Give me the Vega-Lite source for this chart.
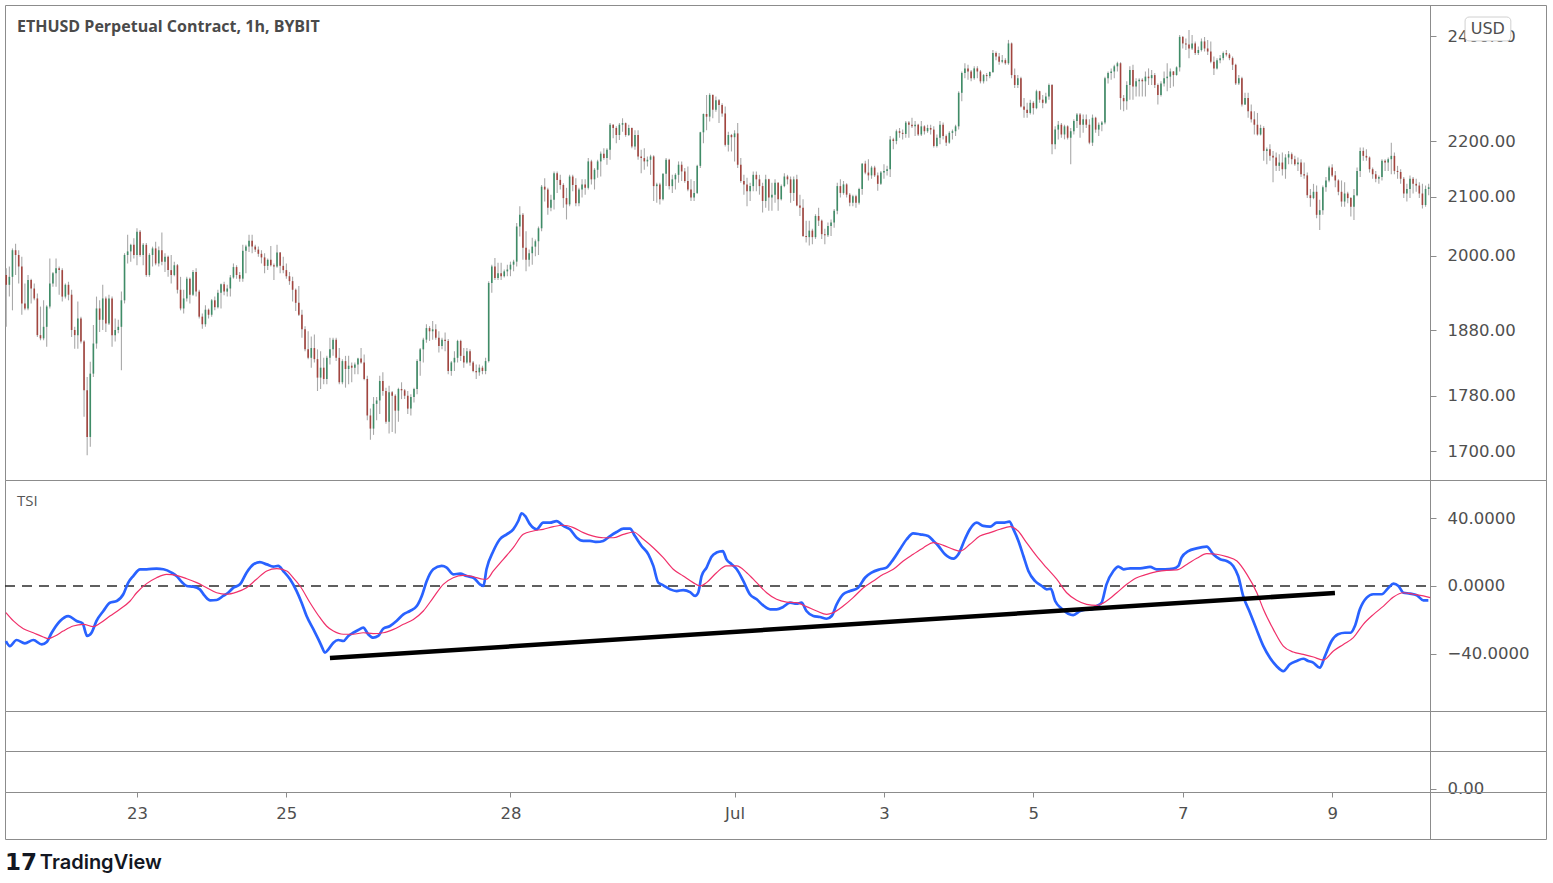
{
"$schema":"https://vega.github.io/schema/vega-lite/v6.json",
"background":"white",
"padding":{"left":0,"top":4,"right":5,"bottom":5},
"spacing":0,
"bounds":"flush",
"config":{"view":{"stroke":"#8c8c8c","strokeWidth":1},
"axis":{"grid":false,"title":null,"labelFont":"DejaVu Sans","labelFontSize":16.5,"labelColor":"#4f4f4f","tickColor":"#8c8c8c","domainColor":"#8c8c8c","labelOverlap":false,"labelFlush":false,"labelBound":false}},
"datasets":{
"candles":[
{"t":-42,"o":1968,"h":1979,"l":1885,"c":1952},{"t":-41,"o":1952,"h":1982,"l":1933,"c":1965},{"t":-40,"o":1965,"h":2012,"l":1911,"c":2009},{"t":-39,"o":2009,"h":2020,"l":1968,"c":2001},{"t":-38,"o":2001,"h":2009,"l":1954,"c":1982},{"t":-37,"o":1982,"h":1998,"l":1904,"c":1922},{"t":-36,"o":1922,"h":1954,"l":1911,"c":1914},{"t":-35,"o":1914,"h":1968,"l":1911,"c":1960},{"t":-34,"o":1960,"h":1962,"l":1922,"c":1946},{"t":-33,"o":1946,"h":1954,"l":1927,"c":1930},
{"t":-32,"o":1930,"h":1938,"l":1869,"c":1872},{"t":-31,"o":1872,"h":1917,"l":1864,"c":1867},{"t":-30,"o":1867,"h":1927,"l":1864,"c":1885},{"t":-29,"o":1885,"h":1919,"l":1854,"c":1917},{"t":-28,"o":1917,"h":1995,"l":1914,"c":1954},{"t":-27,"o":1954,"h":1973,"l":1949,"c":1971},{"t":-26,"o":1971,"h":1995,"l":1949,"c":1979},{"t":-25,"o":1979,"h":1982,"l":1936,"c":1976},{"t":-24,"o":1976,"h":1979,"l":1925,"c":1933},{"t":-23,"o":1933,"h":1954,"l":1930,"c":1952},
{"t":-22,"o":1952,"h":1957,"l":1927,"c":1936},{"t":-21,"o":1936,"h":1944,"l":1869,"c":1880},{"t":-20,"o":1880,"h":1885,"l":1851,"c":1872},{"t":-19,"o":1872,"h":1925,"l":1851,"c":1898},{"t":-18,"o":1898,"h":1901,"l":1859,"c":1862},{"t":-17,"o":1862,"h":1864,"l":1749,"c":1788},{"t":-16,"o":1788,"h":1808,"l":1694,"c":1720},{"t":-15,"o":1720,"h":1831,"l":1706,"c":1813},{"t":-14,"o":1813,"h":1888,"l":1808,"c":1859},{"t":-13,"o":1859,"h":1933,"l":1851,"c":1914},
{"t":-12,"o":1914,"h":1927,"l":1877,"c":1896},{"t":-11,"o":1896,"h":1952,"l":1880,"c":1930},{"t":-10,"o":1930,"h":1933,"l":1877,"c":1890},{"t":-9,"o":1890,"h":1936,"l":1888,"c":1930},{"t":-8,"o":1930,"h":1933,"l":1854,"c":1872},{"t":-7,"o":1872,"h":1898,"l":1862,"c":1880},{"t":-6,"o":1880,"h":1896,"l":1875,"c":1885},{"t":-5,"o":1885,"h":1941,"l":1818,"c":1927},{"t":-4,"o":1927,"h":2004,"l":1922,"c":2001},{"t":-3,"o":2001,"h":2035,"l":1987,"c":2007},
{"t":-2,"o":2007,"h":2020,"l":1990,"c":2018},{"t":-1,"o":2018,"h":2029,"l":1995,"c":2001},{"t":0,"o":2001,"h":2046,"l":1984,"c":2040},{"t":1,"o":2040,"h":2043,"l":1998,"c":2001},{"t":2,"o":2001,"h":2021,"l":1984,"c":2018},{"t":3,"o":2018,"h":2021,"l":1965,"c":1968},{"t":4,"o":1968,"h":2004,"l":1965,"c":2001},{"t":5,"o":2001,"h":2015,"l":1982,"c":2012},{"t":6,"o":2012,"h":2023,"l":1984,"c":1987},{"t":7,"o":1987,"h":2015,"l":1982,"c":2009},
{"t":8,"o":2009,"h":2039,"l":1984,"c":1990},{"t":9,"o":1990,"h":2004,"l":1973,"c":1998},{"t":10,"o":1998,"h":2000,"l":1965,"c":1976},{"t":11,"o":1976,"h":2001,"l":1954,"c":1968},{"t":12,"o":1968,"h":1990,"l":1966,"c":1984},{"t":13,"o":1984,"h":1986,"l":1938,"c":1944},{"t":14,"o":1944,"h":1965,"l":1911,"c":1914},{"t":15,"o":1914,"h":1944,"l":1906,"c":1930},{"t":16,"o":1930,"h":1965,"l":1925,"c":1962},{"t":17,"o":1962,"h":1964,"l":1922,"c":1936},
{"t":18,"o":1936,"h":1976,"l":1934,"c":1973},{"t":19,"o":1973,"h":1979,"l":1933,"c":1941},{"t":20,"o":1941,"h":1944,"l":1898,"c":1901},{"t":21,"o":1901,"h":1906,"l":1882,"c":1889},{"t":22,"o":1889,"h":1919,"l":1885,"c":1912},{"t":23,"o":1912,"h":1914,"l":1898,"c":1904},{"t":24,"o":1904,"h":1929,"l":1901,"c":1927},{"t":25,"o":1927,"h":1933,"l":1911,"c":1916},{"t":26,"o":1916,"h":1944,"l":1914,"c":1939},{"t":27,"o":1939,"h":1954,"l":1914,"c":1953},
{"t":28,"o":1953,"h":1957,"l":1935,"c":1941},{"t":29,"o":1941,"h":1952,"l":1933,"c":1946},{"t":30,"o":1946,"h":1968,"l":1933,"c":1964},{"t":31,"o":1964,"h":1987,"l":1962,"c":1981},{"t":32,"o":1981,"h":1984,"l":1962,"c":1968},{"t":33,"o":1968,"h":1973,"l":1957,"c":1962},{"t":34,"o":1962,"h":2018,"l":1957,"c":2008},{"t":35,"o":2008,"h":2018,"l":1971,"c":2015},{"t":36,"o":2015,"h":2035,"l":2006,"c":2025},{"t":37,"o":2025,"h":2035,"l":2004,"c":2015},
{"t":38,"o":2015,"h":2018,"l":2006,"c":2010},{"t":39,"o":2010,"h":2015,"l":1998,"c":2003},{"t":40,"o":2003,"h":2009,"l":1987,"c":1997},{"t":41,"o":1997,"h":2004,"l":1971,"c":1983},{"t":42,"o":1983,"h":1995,"l":1976,"c":1993},{"t":43,"o":1993,"h":2016,"l":1982,"c":1984},{"t":44,"o":1984,"h":1987,"l":1960,"c":1982},{"t":45,"o":1982,"h":2018,"l":1980,"c":2005},{"t":46,"o":2005,"h":2006,"l":1971,"c":1983},{"t":47,"o":1983,"h":1998,"l":1971,"c":1976},
{"t":48,"o":1976,"h":1987,"l":1962,"c":1966},{"t":49,"o":1966,"h":1973,"l":1952,"c":1958},{"t":50,"o":1958,"h":1965,"l":1925,"c":1944},{"t":51,"o":1944,"h":1946,"l":1910,"c":1923},{"t":52,"o":1923,"h":1950,"l":1902,"c":1904},{"t":53,"o":1904,"h":1912,"l":1868,"c":1881},{"t":54,"o":1881,"h":1886,"l":1847,"c":1850},{"t":55,"o":1850,"h":1878,"l":1835,"c":1837},{"t":56,"o":1837,"h":1870,"l":1822,"c":1852},{"t":57,"o":1852,"h":1873,"l":1830,"c":1835},
{"t":58,"o":1835,"h":1850,"l":1787,"c":1807},{"t":59,"o":1807,"h":1847,"l":1790,"c":1822},{"t":60,"o":1822,"h":1837,"l":1797,"c":1805},{"t":61,"o":1805,"h":1840,"l":1797,"c":1837},{"t":62,"o":1837,"h":1868,"l":1827,"c":1850},{"t":63,"o":1850,"h":1868,"l":1840,"c":1865},{"t":64,"o":1865,"h":1868,"l":1832,"c":1837},{"t":65,"o":1837,"h":1852,"l":1797,"c":1800},{"t":66,"o":1800,"h":1835,"l":1797,"c":1832},{"t":67,"o":1832,"h":1840,"l":1792,"c":1820},
{"t":68,"o":1820,"h":1840,"l":1797,"c":1825},{"t":69,"o":1825,"h":1830,"l":1800,"c":1822},{"t":70,"o":1822,"h":1830,"l":1812,"c":1827},{"t":71,"o":1827,"h":1837,"l":1812,"c":1836},{"t":72,"o":1836,"h":1852,"l":1828,"c":1830},{"t":73,"o":1830,"h":1842,"l":1803,"c":1805},{"t":74,"o":1805,"h":1810,"l":1744,"c":1751},{"t":75,"o":1751,"h":1761,"l":1716,"c":1732},{"t":76,"o":1732,"h":1778,"l":1723,"c":1768},{"t":77,"o":1768,"h":1778,"l":1744,"c":1773},
{"t":78,"o":1773,"h":1810,"l":1753,"c":1802},{"t":79,"o":1802,"h":1815,"l":1780,"c":1787},{"t":80,"o":1787,"h":1792,"l":1739,"c":1742},{"t":81,"o":1742,"h":1795,"l":1725,"c":1785},{"t":82,"o":1785,"h":1787,"l":1727,"c":1780},{"t":83,"o":1780,"h":1782,"l":1725,"c":1758},{"t":84,"o":1758,"h":1792,"l":1742,"c":1790},{"t":85,"o":1790,"h":1800,"l":1775,"c":1788},{"t":86,"o":1788,"h":1790,"l":1775,"c":1780},{"t":87,"o":1780,"h":1787,"l":1753,"c":1761},
{"t":88,"o":1761,"h":1782,"l":1751,"c":1778},{"t":89,"o":1778,"h":1792,"l":1770,"c":1790},{"t":90,"o":1790,"h":1835,"l":1782,"c":1832},{"t":91,"o":1832,"h":1852,"l":1810,"c":1850},{"t":92,"o":1850,"h":1868,"l":1830,"c":1865},{"t":93,"o":1865,"h":1889,"l":1860,"c":1883},{"t":94,"o":1883,"h":1886,"l":1863,"c":1878},{"t":95,"o":1878,"h":1894,"l":1865,"c":1881},{"t":96,"o":1881,"h":1889,"l":1865,"c":1868},{"t":97,"o":1868,"h":1878,"l":1845,"c":1855},
{"t":98,"o":1855,"h":1868,"l":1850,"c":1865},{"t":99,"o":1865,"h":1876,"l":1847,"c":1863},{"t":100,"o":1863,"h":1866,"l":1812,"c":1817},{"t":101,"o":1817,"h":1832,"l":1810,"c":1830},{"t":102,"o":1830,"h":1847,"l":1817,"c":1837},{"t":103,"o":1837,"h":1865,"l":1830,"c":1863},{"t":104,"o":1863,"h":1865,"l":1832,"c":1840},{"t":105,"o":1840,"h":1852,"l":1822,"c":1830},{"t":106,"o":1830,"h":1852,"l":1828,"c":1847},{"t":107,"o":1847,"h":1850,"l":1825,"c":1830},
{"t":108,"o":1830,"h":1832,"l":1815,"c":1817},{"t":109,"o":1817,"h":1827,"l":1805,"c":1815},{"t":110,"o":1815,"h":1827,"l":1810,"c":1822},{"t":111,"o":1822,"h":1825,"l":1812,"c":1817},{"t":112,"o":1817,"h":1837,"l":1812,"c":1832},{"t":113,"o":1832,"h":1958,"l":1830,"c":1955},{"t":114,"o":1955,"h":1985,"l":1939,"c":1982},{"t":115,"o":1982,"h":1996,"l":1960,"c":1963},{"t":116,"o":1963,"h":1988,"l":1960,"c":1971},{"t":117,"o":1971,"h":1988,"l":1960,"c":1966},
{"t":118,"o":1966,"h":1977,"l":1964,"c":1974},{"t":119,"o":1974,"h":1985,"l":1966,"c":1977},{"t":120,"o":1977,"h":1990,"l":1966,"c":1985},{"t":121,"o":1985,"h":1993,"l":1974,"c":1990},{"t":122,"o":1990,"h":2055,"l":1982,"c":2049},{"t":123,"o":2049,"h":2084,"l":2032,"c":2069},{"t":124,"o":2069,"h":2072,"l":1993,"c":2013},{"t":125,"o":2013,"h":2041,"l":1974,"c":1993},{"t":126,"o":1993,"h":2010,"l":1982,"c":2004},{"t":127,"o":2004,"h":2030,"l":1985,"c":2015},
{"t":128,"o":2015,"h":2027,"l":1999,"c":2024},{"t":129,"o":2024,"h":2049,"l":2001,"c":2046},{"t":130,"o":2046,"h":2121,"l":2041,"c":2118},{"t":131,"o":2118,"h":2133,"l":2092,"c":2113},{"t":132,"o":2113,"h":2116,"l":2069,"c":2081},{"t":133,"o":2081,"h":2104,"l":2075,"c":2095},{"t":134,"o":2095,"h":2145,"l":2078,"c":2142},{"t":135,"o":2142,"h":2145,"l":2107,"c":2130},{"t":136,"o":2130,"h":2139,"l":2113,"c":2121},{"t":137,"o":2121,"h":2124,"l":2081,"c":2098},
{"t":138,"o":2098,"h":2116,"l":2061,"c":2087},{"t":139,"o":2087,"h":2139,"l":2084,"c":2136},{"t":140,"o":2136,"h":2139,"l":2110,"c":2121},{"t":141,"o":2121,"h":2133,"l":2084,"c":2089},{"t":142,"o":2089,"h":2116,"l":2084,"c":2113},{"t":143,"o":2113,"h":2131,"l":2099,"c":2122},{"t":144,"o":2122,"h":2131,"l":2104,"c":2116},{"t":145,"o":2116,"h":2169,"l":2113,"c":2163},{"t":146,"o":2163,"h":2166,"l":2122,"c":2131},{"t":147,"o":2131,"h":2151,"l":2113,"c":2148},
{"t":148,"o":2148,"h":2166,"l":2134,"c":2163},{"t":149,"o":2163,"h":2181,"l":2136,"c":2177},{"t":150,"o":2177,"h":2187,"l":2166,"c":2169},{"t":151,"o":2169,"h":2187,"l":2157,"c":2184},{"t":152,"o":2184,"h":2233,"l":2166,"c":2230},{"t":153,"o":2230,"h":2231,"l":2205,"c":2224},{"t":154,"o":2224,"h":2227,"l":2196,"c":2211},{"t":155,"o":2211,"h":2233,"l":2202,"c":2230},{"t":156,"o":2230,"h":2242,"l":2217,"c":2233},{"t":157,"o":2233,"h":2234,"l":2208,"c":2211},
{"t":158,"o":2211,"h":2230,"l":2209,"c":2224},{"t":159,"o":2224,"h":2225,"l":2187,"c":2190},{"t":160,"o":2190,"h":2220,"l":2184,"c":2211},{"t":161,"o":2211,"h":2220,"l":2166,"c":2172},{"t":162,"o":2172,"h":2184,"l":2142,"c":2169},{"t":163,"o":2169,"h":2187,"l":2148,"c":2163},{"t":164,"o":2163,"h":2172,"l":2154,"c":2166},{"t":165,"o":2166,"h":2175,"l":2139,"c":2172},{"t":166,"o":2172,"h":2174,"l":2093,"c":2119},{"t":167,"o":2119,"h":2125,"l":2090,"c":2122},
{"t":168,"o":2122,"h":2125,"l":2087,"c":2096},{"t":169,"o":2096,"h":2142,"l":2094,"c":2141},{"t":170,"o":2141,"h":2169,"l":2119,"c":2166},{"t":171,"o":2166,"h":2168,"l":2113,"c":2119},{"t":172,"o":2119,"h":2139,"l":2107,"c":2131},{"t":173,"o":2131,"h":2142,"l":2113,"c":2139},{"t":174,"o":2139,"h":2163,"l":2125,"c":2157},{"t":175,"o":2157,"h":2163,"l":2128,"c":2145},{"t":176,"o":2145,"h":2151,"l":2125,"c":2128},{"t":177,"o":2128,"h":2154,"l":2110,"c":2113},
{"t":178,"o":2113,"h":2131,"l":2093,"c":2099},{"t":179,"o":2099,"h":2128,"l":2093,"c":2107},{"t":180,"o":2107,"h":2157,"l":2105,"c":2155},{"t":181,"o":2155,"h":2217,"l":2151,"c":2216},{"t":182,"o":2216,"h":2251,"l":2196,"c":2250},{"t":183,"o":2250,"h":2286,"l":2220,"c":2245},{"t":184,"o":2245,"h":2289,"l":2236,"c":2286},{"t":185,"o":2286,"h":2287,"l":2242,"c":2258},{"t":186,"o":2258,"h":2283,"l":2254,"c":2276},{"t":187,"o":2276,"h":2278,"l":2233,"c":2267},
{"t":188,"o":2267,"h":2270,"l":2245,"c":2251},{"t":189,"o":2251,"h":2264,"l":2190,"c":2193},{"t":190,"o":2193,"h":2217,"l":2181,"c":2211},{"t":191,"o":2211,"h":2213,"l":2181,"c":2207},{"t":192,"o":2207,"h":2220,"l":2163,"c":2214},{"t":193,"o":2214,"h":2233,"l":2151,"c":2157},{"t":194,"o":2157,"h":2169,"l":2125,"c":2128},{"t":195,"o":2128,"h":2139,"l":2104,"c":2122},{"t":196,"o":2122,"h":2134,"l":2084,"c":2110},{"t":197,"o":2110,"h":2125,"l":2093,"c":2119},
{"t":198,"o":2119,"h":2145,"l":2110,"c":2139},{"t":199,"o":2139,"h":2145,"l":2110,"c":2131},{"t":200,"o":2131,"h":2139,"l":2104,"c":2119},{"t":201,"o":2119,"h":2125,"l":2073,"c":2093},{"t":202,"o":2093,"h":2139,"l":2081,"c":2131},{"t":203,"o":2131,"h":2132,"l":2076,"c":2099},{"t":204,"o":2099,"h":2125,"l":2076,"c":2104},{"t":205,"o":2104,"h":2131,"l":2090,"c":2125},{"t":206,"o":2125,"h":2126,"l":2076,"c":2096},{"t":207,"o":2096,"h":2122,"l":2094,"c":2119},
{"t":208,"o":2119,"h":2142,"l":2117,"c":2136},{"t":209,"o":2136,"h":2139,"l":2122,"c":2131},{"t":210,"o":2131,"h":2136,"l":2090,"c":2107},{"t":211,"o":2107,"h":2136,"l":2093,"c":2131},{"t":212,"o":2131,"h":2139,"l":2084,"c":2085},{"t":213,"o":2085,"h":2104,"l":2067,"c":2081},{"t":214,"o":2081,"h":2096,"l":2031,"c":2033},{"t":215,"o":2033,"h":2059,"l":2022,"c":2031},{"t":216,"o":2031,"h":2059,"l":2017,"c":2042},{"t":217,"o":2042,"h":2045,"l":2019,"c":2031},
{"t":218,"o":2031,"h":2070,"l":2028,"c":2067},{"t":219,"o":2067,"h":2081,"l":2050,"c":2059},{"t":220,"o":2059,"h":2061,"l":2028,"c":2036},{"t":221,"o":2036,"h":2045,"l":2019,"c":2034},{"t":222,"o":2034,"h":2056,"l":2031,"c":2050},{"t":223,"o":2050,"h":2061,"l":2033,"c":2056},{"t":224,"o":2056,"h":2079,"l":2047,"c":2076},{"t":225,"o":2076,"h":2125,"l":2070,"c":2119},{"t":226,"o":2119,"h":2131,"l":2099,"c":2107},{"t":227,"o":2107,"h":2128,"l":2104,"c":2122},
{"t":228,"o":2122,"h":2124,"l":2099,"c":2104},{"t":229,"o":2104,"h":2107,"l":2084,"c":2090},{"t":230,"o":2090,"h":2104,"l":2084,"c":2101},{"t":231,"o":2101,"h":2104,"l":2081,"c":2090},{"t":232,"o":2090,"h":2116,"l":2087,"c":2114},{"t":233,"o":2114,"h":2160,"l":2104,"c":2159},{"t":234,"o":2159,"h":2164,"l":2140,"c":2143},{"t":235,"o":2143,"h":2167,"l":2129,"c":2138},{"t":236,"o":2138,"h":2155,"l":2132,"c":2152},{"t":237,"o":2152,"h":2155,"l":2135,"c":2138},
{"t":238,"o":2138,"h":2143,"l":2111,"c":2123},{"t":239,"o":2123,"h":2146,"l":2121,"c":2143},{"t":240,"o":2143,"h":2158,"l":2132,"c":2146},{"t":241,"o":2146,"h":2155,"l":2138,"c":2149},{"t":242,"o":2149,"h":2209,"l":2135,"c":2203},{"t":243,"o":2203,"h":2206,"l":2185,"c":2200},{"t":244,"o":2200,"h":2221,"l":2194,"c":2218},{"t":245,"o":2218,"h":2224,"l":2206,"c":2215},{"t":246,"o":2215,"h":2221,"l":2203,"c":2213},{"t":247,"o":2213,"h":2237,"l":2206,"c":2234},
{"t":248,"o":2234,"h":2237,"l":2206,"c":2230},{"t":249,"o":2230,"h":2243,"l":2224,"c":2227},{"t":250,"o":2227,"h":2237,"l":2209,"c":2230},{"t":251,"o":2230,"h":2232,"l":2209,"c":2212},{"t":252,"o":2212,"h":2237,"l":2209,"c":2227},{"t":253,"o":2227,"h":2229,"l":2212,"c":2218},{"t":254,"o":2218,"h":2230,"l":2215,"c":2224},{"t":255,"o":2224,"h":2230,"l":2212,"c":2221},{"t":256,"o":2221,"h":2227,"l":2188,"c":2191},{"t":257,"o":2191,"h":2212,"l":2188,"c":2206},
{"t":258,"o":2206,"h":2237,"l":2194,"c":2230},{"t":259,"o":2230,"h":2234,"l":2203,"c":2209},{"t":260,"o":2209,"h":2212,"l":2191,"c":2197},{"t":261,"o":2197,"h":2218,"l":2195,"c":2215},{"t":262,"o":2215,"h":2221,"l":2203,"c":2218},{"t":263,"o":2218,"h":2230,"l":2209,"c":2227},{"t":264,"o":2227,"h":2293,"l":2221,"c":2290},{"t":265,"o":2290,"h":2331,"l":2274,"c":2328},{"t":266,"o":2328,"h":2347,"l":2318,"c":2337},{"t":267,"o":2337,"h":2344,"l":2315,"c":2331},
{"t":268,"o":2331,"h":2334,"l":2312,"c":2318},{"t":269,"o":2318,"h":2341,"l":2315,"c":2337},{"t":270,"o":2337,"h":2341,"l":2318,"c":2331},{"t":271,"o":2331,"h":2334,"l":2308,"c":2312},{"t":272,"o":2312,"h":2326,"l":2308,"c":2324},{"t":273,"o":2324,"h":2328,"l":2312,"c":2322},{"t":274,"o":2322,"h":2331,"l":2318,"c":2330},{"t":275,"o":2330,"h":2373,"l":2328,"c":2367},{"t":276,"o":2367,"h":2370,"l":2353,"c":2360},{"t":277,"o":2360,"h":2367,"l":2344,"c":2350},
{"t":278,"o":2350,"h":2363,"l":2347,"c":2353},{"t":279,"o":2353,"h":2357,"l":2344,"c":2347},{"t":280,"o":2347,"h":2393,"l":2344,"c":2386},{"t":281,"o":2386,"h":2388,"l":2318,"c":2324},{"t":282,"o":2324,"h":2337,"l":2299,"c":2305},{"t":283,"o":2305,"h":2324,"l":2299,"c":2318},{"t":284,"o":2318,"h":2321,"l":2262,"c":2264},{"t":285,"o":2264,"h":2280,"l":2243,"c":2258},{"t":286,"o":2258,"h":2271,"l":2243,"c":2252},{"t":287,"o":2252,"h":2277,"l":2249,"c":2271},
{"t":288,"o":2271,"h":2274,"l":2249,"c":2261},{"t":289,"o":2261,"h":2296,"l":2259,"c":2293},{"t":290,"o":2293,"h":2294,"l":2271,"c":2277},{"t":291,"o":2277,"h":2286,"l":2261,"c":2271},{"t":292,"o":2271,"h":2290,"l":2269,"c":2283},{"t":293,"o":2283,"h":2308,"l":2277,"c":2305},{"t":294,"o":2305,"h":2307,"l":2176,"c":2194},{"t":295,"o":2194,"h":2227,"l":2185,"c":2221},{"t":296,"o":2221,"h":2237,"l":2203,"c":2230},{"t":297,"o":2230,"h":2233,"l":2206,"c":2212},
{"t":298,"o":2212,"h":2230,"l":2203,"c":2227},{"t":299,"o":2227,"h":2229,"l":2203,"c":2206},{"t":300,"o":2206,"h":2224,"l":2158,"c":2218},{"t":301,"o":2218,"h":2240,"l":2212,"c":2237},{"t":302,"o":2237,"h":2252,"l":2224,"c":2249},{"t":303,"o":2249,"h":2252,"l":2206,"c":2230},{"t":304,"o":2230,"h":2249,"l":2215,"c":2240},{"t":305,"o":2240,"h":2249,"l":2224,"c":2230},{"t":306,"o":2230,"h":2240,"l":2194,"c":2197},{"t":307,"o":2197,"h":2249,"l":2191,"c":2243},
{"t":308,"o":2243,"h":2245,"l":2215,"c":2221},{"t":309,"o":2221,"h":2234,"l":2209,"c":2230},{"t":310,"o":2230,"h":2237,"l":2218,"c":2234},{"t":311,"o":2234,"h":2321,"l":2231,"c":2318},{"t":312,"o":2318,"h":2331,"l":2308,"c":2328},{"t":313,"o":2328,"h":2337,"l":2315,"c":2331},{"t":314,"o":2331,"h":2344,"l":2318,"c":2341},{"t":315,"o":2341,"h":2350,"l":2331,"c":2347},{"t":316,"o":2347,"h":2349,"l":2258,"c":2280},{"t":317,"o":2280,"h":2286,"l":2255,"c":2274},
{"t":318,"o":2274,"h":2312,"l":2258,"c":2305},{"t":319,"o":2305,"h":2341,"l":2277,"c":2334},{"t":320,"o":2334,"h":2344,"l":2277,"c":2302},{"t":321,"o":2302,"h":2318,"l":2283,"c":2312},{"t":322,"o":2312,"h":2318,"l":2283,"c":2315},{"t":323,"o":2315,"h":2318,"l":2283,"c":2312},{"t":324,"o":2312,"h":2331,"l":2283,"c":2321},{"t":325,"o":2321,"h":2337,"l":2305,"c":2318},{"t":326,"o":2318,"h":2334,"l":2305,"c":2324},{"t":327,"o":2324,"h":2328,"l":2299,"c":2305},
{"t":328,"o":2305,"h":2308,"l":2268,"c":2286},{"t":329,"o":2286,"h":2312,"l":2283,"c":2308},{"t":330,"o":2308,"h":2331,"l":2302,"c":2318},{"t":331,"o":2318,"h":2347,"l":2293,"c":2321},{"t":332,"o":2321,"h":2337,"l":2299,"c":2331},{"t":333,"o":2331,"h":2332,"l":2302,"c":2324},{"t":334,"o":2324,"h":2341,"l":2323,"c":2339},{"t":335,"o":2339,"h":2403,"l":2331,"c":2399},{"t":336,"o":2399,"h":2401,"l":2376,"c":2386},{"t":337,"o":2386,"h":2396,"l":2373,"c":2384},
{"t":338,"o":2384,"h":2413,"l":2357,"c":2376},{"t":339,"o":2376,"h":2403,"l":2373,"c":2386},{"t":340,"o":2386,"h":2390,"l":2363,"c":2367},{"t":341,"o":2367,"h":2380,"l":2363,"c":2373},{"t":342,"o":2373,"h":2396,"l":2370,"c":2390},{"t":343,"o":2390,"h":2399,"l":2370,"c":2376},{"t":344,"o":2376,"h":2393,"l":2363,"c":2370},{"t":345,"o":2370,"h":2390,"l":2347,"c":2350},{"t":346,"o":2350,"h":2360,"l":2324,"c":2337},{"t":347,"o":2337,"h":2357,"l":2335,"c":2353},
{"t":348,"o":2353,"h":2363,"l":2347,"c":2357},{"t":349,"o":2357,"h":2370,"l":2353,"c":2367},{"t":350,"o":2367,"h":2373,"l":2360,"c":2364},{"t":351,"o":2364,"h":2367,"l":2353,"c":2357},{"t":352,"o":2357,"h":2360,"l":2334,"c":2344},{"t":353,"o":2344,"h":2346,"l":2305,"c":2308},{"t":354,"o":2308,"h":2324,"l":2305,"c":2318},{"t":355,"o":2318,"h":2321,"l":2264,"c":2268},{"t":356,"o":2268,"h":2290,"l":2267,"c":2280},{"t":357,"o":2280,"h":2290,"l":2243,"c":2255},
{"t":358,"o":2255,"h":2268,"l":2234,"c":2240},{"t":359,"o":2240,"h":2255,"l":2212,"c":2230},{"t":360,"o":2230,"h":2252,"l":2210,"c":2212},{"t":361,"o":2212,"h":2230,"l":2210,"c":2224},{"t":362,"o":2224,"h":2227,"l":2164,"c":2182},{"t":363,"o":2182,"h":2188,"l":2158,"c":2185},{"t":364,"o":2185,"h":2194,"l":2164,"c":2173},{"t":365,"o":2173,"h":2182,"l":2126,"c":2170},{"t":366,"o":2170,"h":2179,"l":2146,"c":2155},{"t":367,"o":2155,"h":2176,"l":2146,"c":2161},
{"t":368,"o":2161,"h":2179,"l":2138,"c":2149},{"t":369,"o":2149,"h":2176,"l":2132,"c":2170},{"t":370,"o":2170,"h":2182,"l":2158,"c":2176},{"t":371,"o":2176,"h":2179,"l":2158,"c":2167},{"t":372,"o":2167,"h":2173,"l":2155,"c":2158},{"t":373,"o":2158,"h":2170,"l":2146,"c":2161},{"t":374,"o":2161,"h":2167,"l":2135,"c":2140},{"t":375,"o":2140,"h":2161,"l":2132,"c":2138},{"t":376,"o":2138,"h":2143,"l":2098,"c":2103},{"t":377,"o":2103,"h":2114,"l":2083,"c":2098},
{"t":378,"o":2098,"h":2123,"l":2096,"c":2109},{"t":379,"o":2109,"h":2120,"l":2063,"c":2069},{"t":380,"o":2069,"h":2095,"l":2043,"c":2077},{"t":381,"o":2077,"h":2120,"l":2069,"c":2117},{"t":382,"o":2117,"h":2135,"l":2109,"c":2129},{"t":383,"o":2129,"h":2155,"l":2126,"c":2152},{"t":384,"o":2152,"h":2158,"l":2135,"c":2138},{"t":385,"o":2138,"h":2146,"l":2117,"c":2129},{"t":386,"o":2129,"h":2131,"l":2103,"c":2109},{"t":387,"o":2109,"h":2129,"l":2083,"c":2092},
{"t":388,"o":2092,"h":2126,"l":2083,"c":2106},{"t":389,"o":2106,"h":2109,"l":2089,"c":2098},{"t":390,"o":2098,"h":2100,"l":2066,"c":2083},{"t":391,"o":2083,"h":2114,"l":2060,"c":2103},{"t":392,"o":2103,"h":2152,"l":2101,"c":2146},{"t":393,"o":2146,"h":2188,"l":2135,"c":2182},{"t":394,"o":2182,"h":2188,"l":2164,"c":2173},{"t":395,"o":2173,"h":2185,"l":2164,"c":2170},{"t":396,"o":2170,"h":2172,"l":2143,"c":2149},{"t":397,"o":2149,"h":2152,"l":2132,"c":2140},
{"t":398,"o":2140,"h":2146,"l":2126,"c":2132},{"t":399,"o":2132,"h":2138,"l":2123,"c":2135},{"t":400,"o":2135,"h":2167,"l":2129,"c":2164},{"t":401,"o":2164,"h":2167,"l":2146,"c":2161},{"t":402,"o":2161,"h":2170,"l":2146,"c":2167},{"t":403,"o":2167,"h":2197,"l":2140,"c":2173},{"t":404,"o":2173,"h":2179,"l":2140,"c":2146},{"t":405,"o":2146,"h":2155,"l":2132,"c":2144},{"t":406,"o":2144,"h":2149,"l":2123,"c":2132},{"t":407,"o":2132,"h":2135,"l":2098,"c":2106},
{"t":408,"o":2106,"h":2123,"l":2092,"c":2114},{"t":409,"o":2114,"h":2138,"l":2098,"c":2132},{"t":410,"o":2132,"h":2135,"l":2106,"c":2123},{"t":411,"o":2123,"h":2132,"l":2109,"c":2120},{"t":412,"o":2120,"h":2126,"l":2098,"c":2106},{"t":413,"o":2106,"h":2123,"l":2080,"c":2086},{"t":414,"o":2086,"h":2120,"l":2083,"c":2114},{"t":415,"o":2114,"h":2123,"l":2103,"c":2117}
],
"tsi":[
{"t":-42.1,"v":-32.6},{"t":-40.8,"v":-35.6},{"t":-38.7,"v":-32.0},{"t":-36.0,"v":-34.0},{"t":-33.3,"v":-32.0},{"t":-30.6,"v":-34.6},{"t":-29.0,"v":-33.2},{"t":-27.4,"v":-27.7},{"t":-24.7,"v":-20.7},{"t":-22.1,"v":-17.8},{"t":-19.4,"v":-20.7},{"t":-17.5,"v":-22.1},{"t":-16.0,"v":-29.6},{"t":-14.6,"v":-27.7},{"t":-13.0,"v":-20.7},{"t":-10.8,"v":-14.8},{"t":-8.7,"v":-9.9},{"t":-6.5,"v":-8.9},{"t":-4.4,"v":-4.9},{"t":-2.8,"v":2.0},{"t":-1.2,"v":5.9},{"t":1.0,"v":9.9},{"t":3.1,"v":9.9},{"t":6.3,"v":10.3},{"t":8.5,"v":9.9},{"t":11.1,"v":7.9},{"t":12.7,"v":5.9},{"t":14.4,"v":2.4},{"t":16.0,"v":0},{"t":18.1,"v":-0.4},{"t":20.2,"v":-2.0},{"t":21.8,"v":-5.9},{"t":23.5,"v":-8.5},{"t":25.6,"v":-8.3},{"t":27.7,"v":-5.9},{"t":29.3,"v":-4.0},{"t":31.0,"v":-1.0},{"t":33.1,"v":1.0},{"t":35.2,"v":7.9},{"t":37.4,"v":12.8},{"t":39.5,"v":14.2},{"t":41.7,"v":12.8},{"t":43.8,"v":11.5},{"t":45.4,"v":11.9},{"t":47.0,"v":8.9},{"t":49.2,"v":4.0},{"t":51.3,"v":-3.0},{"t":52.9,"v":-9.9},{"t":54.5,"v":-17.8},{"t":56.7,"v":-25.7},{"t":58.3,"v":-31.6},{"t":59.3,"v":-35.6},{"t":60.4,"v":-39.5},{"t":61.5,"v":-37.5},{"t":63.1,"v":-33.6},{"t":64.7,"v":-32.0},{"t":66.3,"v":-32.6},{"t":67.9,"v":-29.6},{"t":69.5,"v":-27.7},{"t":71.1,"v":-26.1},{"t":72.7,"v":-24.7},{"t":74.3,"v":-28.6},{"t":75.9,"v":-30.6},{"t":77.5,"v":-29.6},{"t":79.1,"v":-25.3},{"t":81.3,"v":-23.7},{"t":83.4,"v":-20.7},{"t":85.6,"v":-16.8},{"t":87.7,"v":-14.8},{"t":89.9,"v":-11.9},{"t":91.5,"v":-5.9},{"t":93.1,"v":3.0},{"t":95.2,"v":9.9},{"t":97.9,"v":11.9},{"t":99.5,"v":10.9},{"t":101.6,"v":6.9},{"t":103.8,"v":7.3},{"t":105.9,"v":5.9},{"t":108.1,"v":4.9},{"t":110.2,"v":1.0},{"t":111.3,"v":0},{"t":112.3,"v":9.9},{"t":114.5,"v":20.7},{"t":116.6,"v":27.7},{"t":118.8,"v":30.6},{"t":120.9,"v":33.6},{"t":122.5,"v":38.5},{"t":123.6,"v":43.1},{"t":124.7,"v":41.5},{"t":126.3,"v":36.5},{"t":128.4,"v":33.6},{"t":130.5,"v":37.5},{"t":132.7,"v":37.5},{"t":134.8,"v":38.5},{"t":137.0,"v":35.6},{"t":139.1,"v":33.6},{"t":141.3,"v":28.6},{"t":143.4,"v":26.7},{"t":145.5,"v":26.7},{"t":147.7,"v":26.1},{"t":149.8,"v":26.7},{"t":152.0,"v":29.6},{"t":154.1,"v":32.0},{"t":156.3,"v":34.0},{"t":158.4,"v":34.0},{"t":160.0,"v":29.6},{"t":162.1,"v":23.7},{"t":164.3,"v":18.8},{"t":165.9,"v":11.9},{"t":167.5,"v":2.0},{"t":169.1,"v":0.4},{"t":171.3,"v":-2.0},{"t":173.4,"v":-3.0},{"t":175.5,"v":-2.4},{"t":177.7,"v":-3.6},{"t":179.3,"v":-5.9},{"t":180.3,"v":-4.0},{"t":181.4,"v":5.9},{"t":183.0,"v":10.9},{"t":184.6,"v":17.4},{"t":186.2,"v":19.8},{"t":188.2,"v":20.7},{"t":189.4,"v":15.8},{"t":191.1,"v":12.8},{"t":192.7,"v":9.9},{"t":194.8,"v":3.0},{"t":196.9,"v":-4.9},{"t":199.1,"v":-7.9},{"t":201.2,"v":-11.5},{"t":203.4,"v":-13.8},{"t":205.5,"v":-13.8},{"t":207.6,"v":-12.4},{"t":209.8,"v":-9.9},{"t":211.9,"v":-10.5},{"t":213.5,"v":-9.9},{"t":215.1,"v":-14.8},{"t":217.3,"v":-17.8},{"t":219.4,"v":-18.4},{"t":221.6,"v":-19.4},{"t":223.2,"v":-17.8},{"t":224.8,"v":-10.9},{"t":226.9,"v":-4.9},{"t":229.1,"v":-3.0},{"t":231.7,"v":-1.0},{"t":233.9,"v":4.9},{"t":236.0,"v":7.9},{"t":238.7,"v":9.9},{"t":240.8,"v":10.9},{"t":243.0,"v":15.8},{"t":245.1,"v":21.7},{"t":247.3,"v":27.7},{"t":249.4,"v":31.2},{"t":251.6,"v":30.6},{"t":254.2,"v":29.6},{"t":255.9,"v":26.7},{"t":257.5,"v":23.7},{"t":259.6,"v":18.8},{"t":262.3,"v":16.2},{"t":263.9,"v":18.8},{"t":266.0,"v":27.7},{"t":267.6,"v":33.6},{"t":269.8,"v":37.5},{"t":271.9,"v":35.6},{"t":274.1,"v":35.2},{"t":276.2,"v":37.5},{"t":278.3,"v":37.5},{"t":280.3,"v":38.1},{"t":281.6,"v":33.6},{"t":283.2,"v":26.7},{"t":284.8,"v":17.8},{"t":286.4,"v":8.9},{"t":288.5,"v":3.0},{"t":290.7,"v":0},{"t":292.3,"v":-2.0},{"t":293.6,"v":-1.6},{"t":295.0,"v":-8.9},{"t":297.1,"v":-13.4},{"t":299.2,"v":-16.4},{"t":300.8,"v":-17.2},{"t":303.0,"v":-14.8},{"t":305.1,"v":-13.8},{"t":306.7,"v":-13.8},{"t":308.3,"v":-11.9},{"t":309.9,"v":-9.9},{"t":311.5,"v":1.0},{"t":313.7,"v":8.9},{"t":315.3,"v":11.5},{"t":317.0,"v":9.9},{"t":319.1,"v":10.5},{"t":322.3,"v":10.5},{"t":325.5,"v":11.3},{"t":327.6,"v":9.9},{"t":330.3,"v":9.9},{"t":333.0,"v":10.3},{"t":334.6,"v":11.9},{"t":335.6,"v":16.8},{"t":337.8,"v":20.7},{"t":340.4,"v":22.3},{"t":343.7,"v":23.3},{"t":345.8,"v":18.8},{"t":348.0,"v":15.8},{"t":350.1,"v":14.8},{"t":352.2,"v":11.9},{"t":353.8,"v":5.9},{"t":355.4,"v":-5.9},{"t":357.6,"v":-15.8},{"t":359.7,"v":-25.7},{"t":361.9,"v":-35.6},{"t":364.0,"v":-42.5},{"t":366.1,"v":-47.4},{"t":368.3,"v":-50.4},{"t":370.4,"v":-46.4},{"t":372.6,"v":-44.4},{"t":374.7,"v":-43.1},{"t":376.3,"v":-44.4},{"t":377.9,"v":-45.4},{"t":380.0,"v":-48.4},{"t":381.7,"v":-41.5},{"t":383.8,"v":-32.6},{"t":385.9,"v":-28.6},{"t":388.1,"v":-27.7},{"t":389.9,"v":-27.7},{"t":391.3,"v":-23.7},{"t":392.9,"v":-13.8},{"t":395.1,"v":-6.9},{"t":397.2,"v":-4.9},{"t":399.9,"v":-4.9},{"t":402.1,"v":-1.0},{"t":403.7,"v":1.4},{"t":405.3,"v":0},{"t":406.9,"v":-4.0},{"t":409.0,"v":-4.5},{"t":411.2,"v":-5.5},{"t":413.3,"v":-8.5},{"t":414.9,"v":-8.5}
],
"sig":[
{"t":-42.1,"v":-15.8},{"t":-39.7,"v":-20.7},{"t":-36.5,"v":-25.3},{"t":-33.3,"v":-27.7},{"t":-30.1,"v":-30.2},{"t":-28.5,"v":-31.2},{"t":-26.3,"v":-29.6},{"t":-23.7,"v":-26.7},{"t":-20.5,"v":-23.7},{"t":-17.2,"v":-22.7},{"t":-14.0,"v":-24.1},{"t":-11.9,"v":-22.1},{"t":-8.7,"v":-17.8},{"t":-5.5,"v":-13.8},{"t":-2.2,"v":-8.9},{"t":-0.1,"v":-4.0},{"t":3.1,"v":1.4},{"t":6.3,"v":4.9},{"t":9.5,"v":6.9},{"t":12.7,"v":6.3},{"t":16.0,"v":4.3},{"t":19.2,"v":2.0},{"t":22.4,"v":-1.0},{"t":25.6,"v":-4.0},{"t":28.8,"v":-4.9},{"t":32.0,"v":-3.6},{"t":35.2,"v":-1.0},{"t":38.4,"v":4.0},{"t":41.7,"v":8.9},{"t":44.9,"v":10.3},{"t":48.1,"v":8.9},{"t":50.2,"v":4.9},{"t":52.4,"v":0},{"t":55.6,"v":-9.9},{"t":58.8,"v":-18.8},{"t":60.9,"v":-23.7},{"t":63.1,"v":-26.7},{"t":66.3,"v":-28.6},{"t":69.5,"v":-28.6},{"t":72.7,"v":-27.7},{"t":75.9,"v":-28.2},{"t":79.1,"v":-27.7},{"t":82.4,"v":-25.7},{"t":85.6,"v":-22.7},{"t":88.8,"v":-19.8},{"t":92.0,"v":-14.8},{"t":95.2,"v":-6.9},{"t":98.4,"v":1.0},{"t":101.6,"v":4.9},{"t":104.8,"v":6.3},{"t":108.1,"v":5.5},{"t":111.3,"v":4.0},{"t":112.3,"v":4.0},{"t":114.5,"v":8.9},{"t":117.7,"v":15.8},{"t":120.9,"v":22.7},{"t":124.1,"v":30.6},{"t":127.3,"v":32.6},{"t":130.5,"v":33.6},{"t":133.8,"v":35.2},{"t":137.0,"v":36.0},{"t":140.2,"v":34.6},{"t":143.4,"v":31.6},{"t":146.6,"v":29.6},{"t":149.8,"v":28.6},{"t":153.0,"v":28.6},{"t":156.3,"v":30.6},{"t":159.5,"v":32.0},{"t":162.7,"v":27.7},{"t":165.9,"v":22.7},{"t":169.1,"v":16.8},{"t":172.3,"v":9.9},{"t":175.5,"v":5.9},{"t":178.7,"v":2.0},{"t":180.9,"v":0},{"t":183.0,"v":2.0},{"t":186.2,"v":7.9},{"t":189.4,"v":11.9},{"t":192.7,"v":11.9},{"t":195.9,"v":7.9},{"t":199.1,"v":2.0},{"t":202.3,"v":-4.0},{"t":205.5,"v":-7.9},{"t":208.7,"v":-9.5},{"t":211.9,"v":-9.9},{"t":215.1,"v":-12.2},{"t":218.4,"v":-14.8},{"t":221.6,"v":-16.8},{"t":223.7,"v":-15.8},{"t":226.9,"v":-11.9},{"t":230.1,"v":-6.9},{"t":233.4,"v":-1.0},{"t":236.6,"v":3.0},{"t":239.8,"v":6.9},{"t":243.0,"v":9.9},{"t":246.2,"v":14.8},{"t":249.4,"v":18.8},{"t":252.7,"v":22.7},{"t":255.9,"v":25.7},{"t":259.1,"v":24.1},{"t":262.3,"v":21.7},{"t":264.5,"v":20.7},{"t":267.6,"v":24.7},{"t":270.8,"v":29.6},{"t":274.1,"v":31.6},{"t":277.3,"v":33.6},{"t":280.5,"v":35.2},{"t":283.1,"v":32.6},{"t":285.8,"v":25.7},{"t":289.0,"v":17.8},{"t":292.2,"v":10.9},{"t":295.5,"v":4.0},{"t":298.7,"v":-4.0},{"t":301.9,"v":-8.5},{"t":305.1,"v":-10.9},{"t":308.3,"v":-11.5},{"t":311.5,"v":-8.9},{"t":314.8,"v":-4.0},{"t":318.0,"v":1.0},{"t":321.2,"v":4.9},{"t":324.4,"v":6.9},{"t":327.6,"v":8.5},{"t":330.8,"v":9.3},{"t":334.1,"v":9.5},{"t":337.3,"v":12.8},{"t":340.5,"v":16.4},{"t":343.7,"v":19.2},{"t":346.9,"v":18.8},{"t":350.1,"v":17.4},{"t":353.4,"v":14.8},{"t":356.6,"v":6.9},{"t":359.8,"v":-4.0},{"t":361.9,"v":-13.8},{"t":365.1,"v":-25.7},{"t":368.3,"v":-35.6},{"t":371.5,"v":-39.1},{"t":374.7,"v":-40.5},{"t":378.0,"v":-42.1},{"t":381.2,"v":-43.9},{"t":384.4,"v":-38.5},{"t":387.6,"v":-34.6},{"t":390.8,"v":-30.6},{"t":394.0,"v":-22.7},{"t":397.3,"v":-16.8},{"t":400.5,"v":-11.9},{"t":403.7,"v":-6.5},{"t":406.9,"v":-4.0},{"t":410.1,"v":-4.9},{"t":413.3,"v":-5.9},{"t":415.5,"v":-6.9}
],
"trend":[{"t":62.0,"v":-42.7},{"t":384.9,"v":-4.1}],
"days":[{"t":0},{"t":48},{"t":120},{"t":192},{"t":240},{"t":288},{"t":336},{"t":384}]
},
"vconcat":[
{"width":1541,"height":475,
"layer":[
{"data":{"name":"candles"},"mark":{"type":"rule","strokeWidth":1.1,"color":"#a9a9a9"},
"encoding":{"x":{"field":"t","type":"quantitative","scale":{"domain":[-42.4,452.7],"nice":false,"zero":false},"axis":null},
"y":{"field":"l","type":"quantitative","scale":{"type":"log","domain":[1659.5,2463.5],"nice":false},"axis":{"orient":"right","offset":-116,"values":[1700,1780,1880,2000,2100,2200,2400],"format":".2f","tickSize":6,"labelPadding":11}},
"y2":{"field":"h"}}},
{"data":{"name":"candles"},"mark":{"type":"rule","strokeWidth":1.6},
"encoding":{"x":{"field":"t","type":"quantitative"},"y":{"field":"o","type":"quantitative"},"y2":{"field":"c"},
"color":{"condition":{"test":"datum.c >= datum.o","value":"#3f8c67"},"value":"#a3453f"}}},
{"data":{"values":[{"label":"ETHUSD Perpetual Contract, 1h, BYBIT"}]},"mark":{"type":"text","align":"left","baseline":"middle","font":"Open Sans","fontWeight":"bold","fontSize":16,"color":"#4a4a4a"},
"encoding":{"x":{"datum":-38.55,"type":"quantitative"},"y":{"datum":2419,"type":"quantitative"},"text":{"field":"label"}}},
{"data":{"values":[{"label":"USD"}]},"mark":{"type":"rect","fill":"white","stroke":"#d0d0d0","strokeWidth":1,"cornerRadius":4},
"encoding":{"x":{"datum":426.7,"type":"quantitative"},"x2":{"datum":441.4},"y":{"datum":2439,"type":"quantitative"},"y2":{"datum":2391}}},
{"data":{"values":[{"label":"USD"}]},"mark":{"type":"text","align":"center","baseline":"middle","font":"DejaVu Sans","fontSize":16,"color":"#4f4f4f"},
"encoding":{"x":{"datum":434,"type":"quantitative"},"y":{"datum":2415,"type":"quantitative"},"text":{"field":"label"}}}
]},
{"width":1541,"height":231,
"layer":[
{"data":{"values":[{"k":0}]},"mark":{"type":"rule","strokeDash":[10,7],"strokeWidth":1.5,"color":"#2b2b2b"},
"encoding":{"x":{"datum":-42.4,"type":"quantitative","scale":{"domain":[-42.4,452.7],"nice":false,"zero":false},"axis":null},"x2":{"datum":415.4},
"y":{"datum":0,"type":"quantitative","scale":{"domain":[-74.07,62.81],"nice":false,"zero":false},"axis":{"orient":"right","offset":-116,"values":[-40,0,40],"format":".4f","tickSize":6,"labelPadding":11}}}},
{"data":{"name":"tsi"},"mark":{"type":"line","interpolate":"monotone","strokeWidth":2.7,"color":"#2962ff"},
"encoding":{"x":{"field":"t","type":"quantitative"},"y":{"field":"v","type":"quantitative"}}},
{"data":{"name":"sig"},"mark":{"type":"line","interpolate":"monotone","strokeWidth":1.2,"color":"#f0306a"},
"encoding":{"x":{"field":"t","type":"quantitative"},"y":{"field":"v","type":"quantitative"}}},
{"data":{"name":"trend"},"mark":{"type":"line","strokeWidth":4.5,"color":"#000000","strokeCap":"butt"},
"encoding":{"x":{"field":"t","type":"quantitative"},"y":{"field":"v","type":"quantitative"}}},
{"data":{"values":[{"label":"TSI"}]},"mark":{"type":"text","align":"left","baseline":"middle","font":"Open Sans","fontSize":15,"color":"#555555"},
"encoding":{"x":{"datum":-38.55,"type":"quantitative"},"y":{"datum":50.4,"type":"quantitative"},"text":{"field":"label"}}}
]},
{"width":1541,"height":40,
"data":{"name":"days"},"mark":{"type":"point","opacity":0},
"encoding":{"x":{"field":"t","type":"quantitative","scale":{"domain":[-42.4,452.7],"nice":false,"zero":false},"axis":null},
"y":{"datum":0.5,"type":"quantitative","scale":{"domain":[0,1]},"axis":{"orient":"right","offset":-116,"labels":false,"ticks":false,"domain":true}}}},
{"width":1541,"height":41,
"data":{"name":"days"},"mark":{"type":"point","opacity":0},
"encoding":{"x":{"field":"t","type":"quantitative","scale":{"domain":[-42.4,452.7],"nice":false,"zero":false},"axis":null},
"y":{"datum":0.5,"type":"quantitative","scale":{"domain":[-0.08,1],"nice":false,"zero":false},"axis":{"orient":"right","offset":-116,"values":[0],"format":".2f","tickSize":6,"labelPadding":11}}}},
{"width":1541,"height":47,
"data":{"name":"days"},"mark":{"type":"point","opacity":0},
"encoding":{"x":{"field":"t","type":"quantitative","scale":{"domain":[-42.4,452.7],"nice":false,"zero":false},
"axis":{"orient":"bottom","offset":-47,"values":[0,48,120,192,240,288,336,384],"domain":false,"tickSize":5,"labelPadding":8,
"labelExpr":"datum.value==0?'23':datum.value==48?'25':datum.value==120?'28':datum.value==192?'Jul':datum.value==240?'3':datum.value==288?'5':datum.value==336?'7':'9'"}},
"y":{"datum":0.5,"type":"quantitative","scale":{"domain":[0,1]},"axis":{"orient":"right","offset":-116,"labels":false,"ticks":false,"domain":true}}}},
{"width":1541,"height":39,"view":{"stroke":null},
"layer":[
{"data":{"values":[{"label":"17"}]},"mark":{"type":"text","align":"left","baseline":"middle","font":"DejaVu Sans","fontWeight":"bold","fontSize":23,"color":"#131722"},
"encoding":{"x":{"datum":-42.4,"type":"quantitative","scale":{"domain":[-42.4,452.7],"nice":false,"zero":false},"axis":null},"y":{"datum":0.385,"type":"quantitative","scale":{"domain":[0,1]},"axis":null},"text":{"field":"label"}}},
{"data":{"values":[{"label":"TradingView"}]},"mark":{"type":"text","align":"left","baseline":"middle","font":"Inter","fontWeight":600,"fontSize":20,"color":"#131722"},
"encoding":{"x":{"datum":-31.2,"type":"quantitative"},"y":{"datum":0.385,"type":"quantitative"},"text":{"field":"label"}}}
]}
]
}
